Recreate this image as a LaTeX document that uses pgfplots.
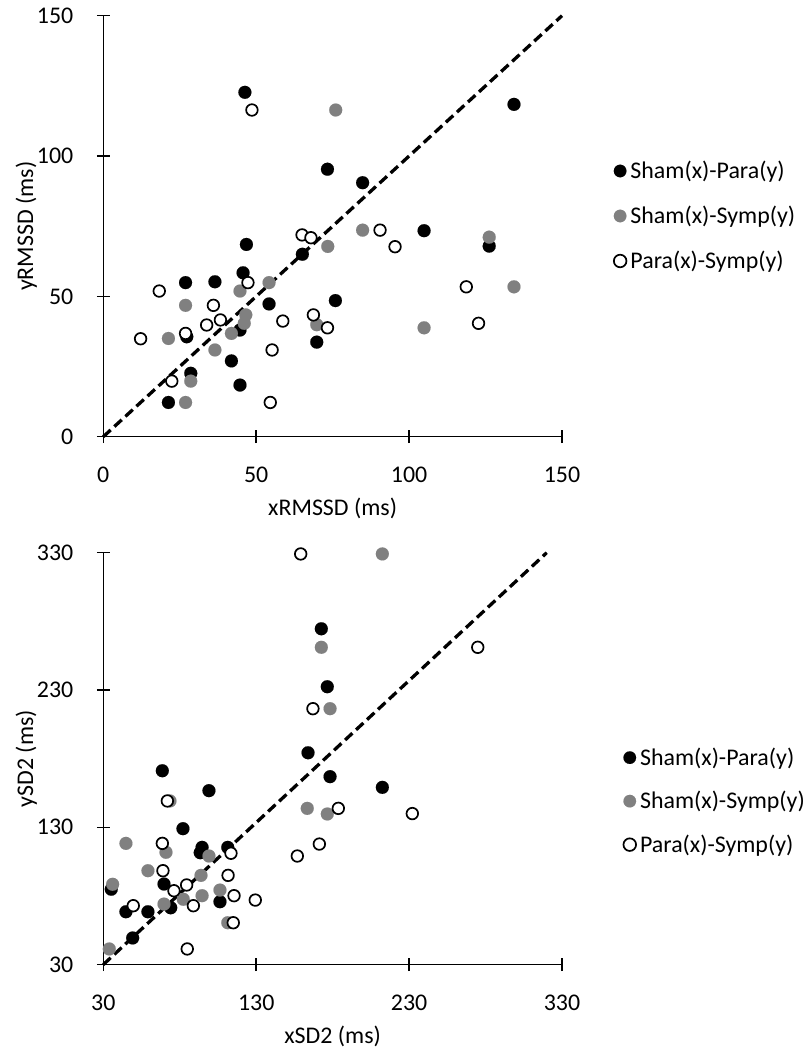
\documentclass[border=0pt]{standalone}
\usepackage{fontspec}
\setmainfont{Carlito}
\usepackage{pgfplots}
\pgfplotsset{compat=1.18}
\definecolor{sgray}{RGB}{128,128,128}
\newcommand{\cf}{\fontsize{24}{29}\selectfont}
\pgfplotsset{
 myax/.style={
  scale only axis, width=458.7bp,
  axis x line=bottom, axis y line=left,
  axis line style={-, line width=1.5bp, black},
  tick align=center, major tick length=13bp,
  every tick/.style={line width=1.5bp, black},
  /pgf/number format/assume math mode=true,
  tick label style={font=\cf},
  xticklabel style={anchor=north, inner sep=0pt, yshift=-24bp},
  yticklabel style={anchor=east, inner sep=0pt, xshift=-23.3bp},
  label style={font=\cf},
  xlabel style={at={(axis description cs:0.5,0)}, anchor=base, inner sep=0pt, yshift=-78.5bp},
  clip=false,
  legend cell align=left,
  legend image code/.code={\draw[#1, mark size=6.3bp] plot coordinates {(6.5bp,2bp)};},
 },
 blk/.style={only marks, mark=*, mark size=6.5bp, mark options={draw=black, fill=black, line width=0.1bp}},
 gry/.style={only marks, mark=*, mark size=6.5bp, mark options={draw=sgray, fill=sgray, line width=0.1bp}},
 opn/.style={only marks, mark=*, mark size=5.8bp, mark options={draw=black, fill=white, line width=1.7bp}},
 diag/.style={black, line width=3.3bp, dash pattern=on 10bp off 5bp, forget plot},
}
\begin{document}
\cf
\begin{tikzpicture}
\useasboundingbox (0bp,0bp) rectangle (809bp,-1054bp);
% ---------------- top panel ----------------
\begin{axis}[myax,
  at={(103.3bp,-436.7bp)}, anchor=south west,
  height=421bp,
  xmin=0, xmax=150, ymin=0, ymax=150,
  xtick={0,50,100,150}, ytick={0,50,100,150},
  xlabel={xRMSSD (ms)}, ylabel={yRMSSD (ms)},
  ylabel style={at={(axis description cs:-0.153,0.5)}, anchor=base, inner sep=0pt},
  legend style={draw=none, fill=none, font=\cf, inner sep=0pt, outer sep=0pt,
    at={(axis description cs:1.113,0.5195)}, anchor=west,
    row sep=22.5bp, column sep=4bp,
    nodes={inner sep=0pt, text height=17bp, text depth=5.5bp}},
]
\addplot[diag] coordinates {(0,0) (150,150)};
\addplot[blk] coordinates {
(46.3,122.7) (134.3,118.4) (73.3,95.3) (84.8,90.5) (46.8,68.5) (104.9,73.4)
(126.2,67.9) (65.1,65.0) (45.7,58.4) (26.9,54.9) (36.5,55.2) (54.2,47.3)
(75.9,48.5) (44.7,38.0) (69.8,33.7) (27.3,35.6) (41.9,27.0) (28.6,22.6)
(44.7,18.4) (21.3,12.2)};
\addlegendentry{Sham(x)-Para(y)}
\addplot[gry] coordinates {
(76.0,116.4) (73.4,67.8) (84.8,73.6) (126.2,71.1) (44.7,51.9) (54.2,54.9)
(134.3,53.4) (26.9,46.8) (46.6,43.4) (46.1,40.4) (41.9,36.8) (69.8,39.9)
(104.9,38.8) (21.3,35.0) (36.5,30.9) (28.6,19.8) (26.9,12.2)};
\addlegendentry{Sham(x)-Symp(y)}
\addplot[opn] coordinates {
(48.6,116.4) (65.0,71.9) (67.9,70.9) (90.5,73.6) (95.4,67.7) (47.3,54.9)
(18.3,51.9) (118.7,53.4) (36.0,46.8) (38.3,41.6) (33.8,39.8) (58.7,41.2)
(68.7,43.4) (73.3,38.8) (122.7,40.4) (12.2,34.9) (26.9,36.8) (55.2,30.9)
(22.4,19.8) (54.6,12.2)};
\addlegendentry{Para(x)-Symp(y)}
\end{axis}
% ---------------- bottom panel ----------------
\begin{axis}[myax,
  at={(103.3bp,-964.6bp)}, anchor=south west,
  height=411.9bp,
  xmin=30, xmax=330, ymin=30, ymax=330,
  xtick={30,130,230,330}, ytick={30,130,230,330},
  xlabel={xSD2 (ms)}, ylabel={ySD2 (ms)},
  ylabel style={at={(axis description cs:-0.153,0.5)}, anchor=base, inner sep=0pt},
  legend style={draw=none, fill=none, font=\cf, inner sep=0pt, outer sep=0pt,
    at={(axis description cs:1.134,0.392)}, anchor=west,
    row sep=21bp, column sep=4bp,
    nodes={inner sep=0pt, text height=17bp, text depth=5.5bp}},
]
\addplot[diag] coordinates {(30,30) (320,330)};
\addplot[blk] coordinates {
(172.6,274.6) (176.5,232.4) (163.9,184.3) (68.6,171.2) (178.3,166.9) (99.1,156.7)
(212.5,159.1) (82.1,129.0) (94.6,115.4) (93.4,111.5) (111.4,115.4) (69.7,88.7)
(35.2,84.9) (106.3,75.8) (44.8,68.5) (59.2,68.5) (74.1,71.4) (49.2,49.4)};
\addlegendentry{Sham(x)-Para(y)}
\addplot[gry] coordinates {
(212.5,329.1) (172.6,261.1) (178.3,216.4) (73.6,149.2) (163.4,143.8) (176.5,139.7)
(44.8,118.3) (71.0,111.8) (99.1,109.1) (59.2,98.4) (93.9,95.0) (36.1,88.5)
(82.3,77.6) (94.6,80.2) (106.3,84.3) (69.7,74.1) (111.4,60.5) (33.9,41.4)};
\addlegendentry{Sham(x)-Symp(y)}
\addplot[opn] coordinates {
(159.1,329.1) (274.9,261.1) (167.1,216.4) (71.9,149.2) (183.7,143.8) (232.1,140.0)
(68.6,118.3) (113.5,111.1) (156.9,109.1) (171.3,117.8) (69.0,98.4) (111.6,95.0)
(84.5,88.0) (76.2,83.8) (115.5,80.2) (129.4,77.0) (49.6,72.9) (88.9,72.9)
(115.0,60.5) (84.9,41.4)};
\addlegendentry{Para(x)-Symp(y)}
\end{axis}
\end{tikzpicture}
\end{document}
